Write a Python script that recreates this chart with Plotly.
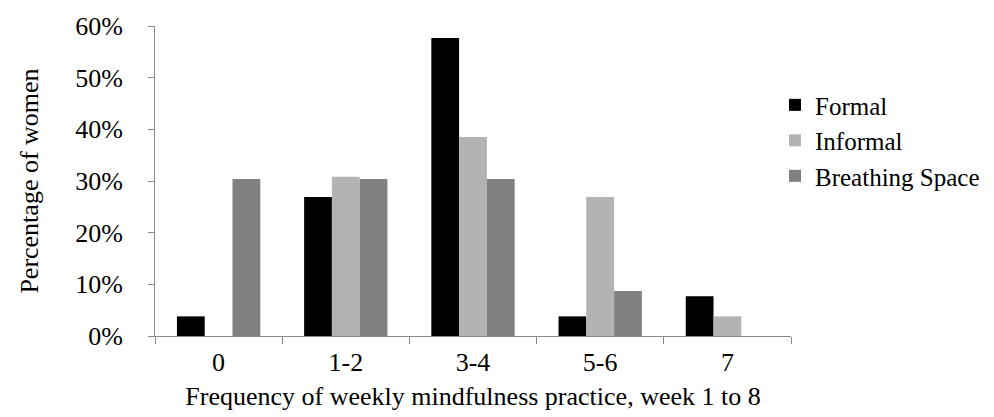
import plotly.graph_objects as go

categories = ["0", "1-2", "3-4", "5-6", "7"]
formal = [0.038, 0.269, 0.577, 0.038, 0.077]
informal = [0.0, 0.308, 0.385, 0.269, 0.038]
breathing = [0.304, 0.304, 0.304, 0.087, 0.0]
y_ticks = [0, 0.1, 0.2, 0.3, 0.4, 0.5, 0.6]

FONT = "Liberation Serif, serif"
FS = 26
AX = "#898989"

fig = go.Figure()
fig.add_bar(name="Formal", x=categories, y=formal, marker=dict(color="#000000", line=dict(width=0)))
fig.add_bar(name="Informal", x=categories, y=informal, marker=dict(color="#b3b3b3", line=dict(width=0)))
fig.add_bar(name="Breathing Space", x=categories, y=breathing, marker=dict(color="#808080", line=dict(width=0)))

PW = 994 - 147
fig.update_layout(
    width=994, height=417,
    margin=dict(l=147, r=0, t=18, b=89, autoexpand=False),
    paper_bgcolor="white", plot_bgcolor="white",
    font=dict(family=FONT, size=FS, color="#000000"),
    barmode="group", bargap=0.345, bargroupgap=0,
    showlegend=True,
    legend=dict(x=(767 - 147) / PW, y=0.819, xanchor="left", yanchor="top",
                font=dict(family=FONT, size=25), itemwidth=30,
                bgcolor="rgba(0,0,0,0)", tracegroupgap=0),
    xaxis=dict(
        domain=[0, 636 / PW],
        showline=True, linecolor=AX, linewidth=1,
        ticks="outside", ticklen=7, tickcolor=AX, tickson="boundaries",
        showgrid=False, zeroline=False,
        tickfont=dict(family=FONT, size=FS), ticklabelstandoff=3,
        title=dict(text="Frequency of weekly mindfulness practice, week 1 to 8",
                   font=dict(family=FONT, size=FS), standoff=10),
    ),
    yaxis=dict(
        range=[0, 0.6], tickvals=y_ticks, tickformat=".0%",
        showline=True, linecolor=AX, linewidth=1,
        ticks="outside", ticklen=6, tickcolor=AX,
        showgrid=False, zeroline=False,
        tickfont=dict(family=FONT, size=FS), ticklabelstandoff=20,
        title=dict(text="Percentage of women", font=dict(family=FONT, size=FS), standoff=29),
    ),
)

fig.write_html("out.html")
